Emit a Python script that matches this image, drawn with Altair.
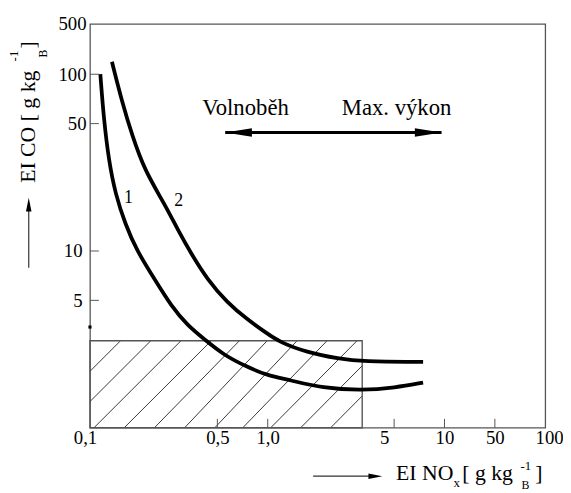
import altair as alt
import pandas as pd
import numpy as np

FONT = "Liberation Serif"

# ---------------- data ----------------
x_ticks = [0.1, 0.5, 1, 5, 10, 50, 100]
x_tick_labels = ["0,1", "0,5", "1,0", "5", "10", "50", "100"]
y_domain = [1, 5, 10, 50, 100, 500]
y_ticks = [5, 10, 50, 100, 500]

curve1_x = [0.114, 0.119, 0.127, 0.138, 0.156, 0.180, 0.227, 0.279, 0.344, 0.423,
            0.548, 0.752, 0.986, 1.32, 2.01, 3.33, 5.07, 7.45]
curve1_y = [100, 53.8, 31.1, 20.5, 14.1, 10.1, 6.69, 4.66, 3.63, 3.07,
            2.50, 2.16, 1.94, 1.83, 1.65, 1.60, 1.66, 1.77]
curve2_x = [0.132, 0.150, 0.170, 0.200, 0.257, 0.304, 0.358, 0.441, 0.573, 0.752,
            0.986, 1.167, 1.633, 2.48, 3.33, 7.45]
curve2_y = [149, 67.8, 43.4, 27.5, 18.1, 13.0, 9.7, 6.69, 4.86, 3.94,
            3.30, 2.95, 2.60, 2.39, 2.31, 2.30]

rect_x = [0.1, 3.33]
rect_y = [1.0, 3.0]

curve_labels = ["1", "2"]
curve_label_x = [0.1626, 0.307]
curve_label_y = [19.4, 18.9]

# ---------------- scales (piecewise, as in the drawing) ----------------
W, H = 461, 409
xs = alt.Scale(type="log", domain=x_ticks, range=[0, 129, 180, 308, 359, 410, 461], nice=False)
ys = alt.Scale(type="log", domain=y_domain, range=[409, 280, 230, 101, 51, 0], nice=False)

x_label_expr = " : ".join(
    f"datum.value == {v} ? '{l}'" for v, l in zip(x_ticks, x_tick_labels)) + " : ''"

xaxis = alt.Axis(values=x_ticks, labelExpr=x_label_expr, ticks=False, domain=False, grid=False,
                 title=None, labelFont=FONT, labelFontSize=19, labelColor="black",
                 labelPadding=1, labelFlush=False, labelOverlap=False,
                 labelOffset={"expr": "datum.value == 5 ? -10 : datum.value == 0.1 ? -5 : datum.value == 100 ? 4 : 0"})
yaxis = alt.Axis(values=y_ticks, labelExpr="toString(datum.value)", ticks=False, domain=False,
                 grid=False, title=None, labelFont=FONT, labelFontSize=19, labelColor="black",
                 labelFlush=False, labelOverlap=False,
                 labelPadding={"expr": "datum.value <= 10 ? 8 : 4"})


def X(f):
    return alt.X(f, type="quantitative", scale=xs, axis=xaxis)


def Y(f):
    return alt.Y(f, type="quantitative", scale=ys, axis=yaxis)


# ---------------- tables ----------------
curves = pd.concat([
    pd.DataFrame({"x": curve1_x, "y": curve1_y, "c": "1"}),
    pd.DataFrame({"x": curve2_x, "y": curve2_y, "c": "2"}),
])

# hatching of the rectangle (45 deg lines, 30 px apart)
umax = np.log10(rect_x[1] / rect_x[0])
vmax = np.log10(rect_y[1] / rect_y[0])
step = 30 / 181
rows = []
k = 0
for c in np.arange(0.022 - 2 * step, umax, step):
    u0, v0 = max(c, 0), max(-c, 0)
    u1, v1 = min(c + vmax, umax), min(vmax, umax - c)
    if u1 - u0 < 0.01:
        continue
    for u, v in ((u0, v0), (u1, v1)):
        rows.append({"x": rect_x[0] * 10 ** u, "y": rect_y[0] * 10 ** v, "k": k})
    k += 1
hatch = pd.DataFrame(rows)

rect = pd.DataFrame({"x": [rect_x[0]], "x2": [rect_x[1]], "y": [rect_y[0]], "y2": [rect_y[1]]})
xtick_df = pd.DataFrame({"v": [0.5, 1, 5, 10, 50]})
ytick_df = pd.DataFrame({"v": [5, 10, 50, 100]})
lab_df = pd.DataFrame({"x": curve_label_x, "y": curve_label_y, "t": curve_labels})

arrow = pd.DataFrame({"x": [0.557], "x2": [9.6], "y": [44.7]})
head_l = pd.DataFrame({"x": [0.557], "y": [44.7]})
head_r = pd.DataFrame({"x": [9.6], "y": [44.7]})
words = pd.DataFrame({"x": [0.737, 5.17], "y": [56.6, 56.6], "t": ["Volnoběh", "Max. výkon"]})
dot = pd.DataFrame({"x": [0.1], "y": [3.57]})

one = pd.DataFrame({"a": [0]})

# ---------------- layers ----------------
hatch_l = alt.Chart(hatch).mark_line(color="#222", strokeWidth=0.9).encode(
    x=X("x"), y=Y("y"), detail="k:N")
rect_l = alt.Chart(rect).mark_rect(fillOpacity=0, stroke="#555", strokeWidth=1.4).encode(
    x=X("x"), x2="x2", y=Y("y"), y2="y2")
xt_l = alt.Chart(xtick_df).mark_rule(color="#555", strokeWidth=1).encode(
    x=X("v"), y=alt.value(H), y2=alt.value(H - 9))
yt_l = alt.Chart(ytick_df).mark_rule(color="#555", strokeWidth=1).encode(
    y=Y("v"), x=alt.value(0), x2=alt.value(9))
curve_l = alt.Chart(curves).mark_line(color="black", strokeWidth=3.8, interpolate="basis").encode(
    x=X("x"), y=Y("y"), detail="c:N")
lab_l = alt.Chart(lab_df).mark_text(font=FONT, fontSize=18, color="black", align="center",
                                    baseline="middle").encode(x=X("x"), y=Y("y"), text="t:N")
arrow_l = alt.Chart(arrow).mark_rule(color="black", strokeWidth=3).encode(
    x=X("x"), x2="x2", y=Y("y"))
hl_l = alt.Chart(head_l).mark_point(shape="M 0 0 L 2 -0.32 L 2 0.32 Z", size=729, filled=True,
                                    color="black", opacity=1, strokeWidth=0).encode(x=X("x"), y=Y("y"))
hr_l = alt.Chart(head_r).mark_point(shape="M 0 0 L -2 -0.32 L -2 0.32 Z", size=729, filled=True,
                                    color="black", opacity=1, strokeWidth=0).encode(x=X("x"), y=Y("y"))
words_l = alt.Chart(words).mark_text(font=FONT, fontSize=23, color="black", align="center",
                                     baseline="alphabetic").encode(x=X("x"), y=Y("y"), text="t:N")
dot_l = alt.Chart(dot).mark_point(shape="square", size=10, filled=True, color="black",
                                  opacity=1).encode(x=X("x"), y=Y("y"))


def txt(t, x, y, size, angle=0):
    return alt.Chart(one).mark_text(text=t, font=FONT, fontSize=size, angle=angle, align="left",
                                    baseline="alphabetic", color="black").encode(
        x=alt.value(x), y=alt.value(y))


# y-axis title  "EI CO [ g kg_B^-1 ]"  (rotated)
ytitle = [
    txt("EI CO [ g kg", -56, 161, 22, 270),
    txt("-1", -73, 38, 13, 270),
    txt("B", -44, 34, 12, 270),
    txt("]", -56, 25, 22, 270),
]
# x-axis title  "EI NO_x [ g kg_B^-1 ]"
xtitle = [
    txt("EI NO", 310, 462, 22),
    txt("x", 368, 469, 13),
    txt("[ g kg", 377, 462, 22),
    txt("-1", 436, 452, 13),
    txt("B", 437, 471, 12),
    txt("]", 451, 462, 22),
]

yarrow_line = alt.Chart(one).mark_rule(color="#333", strokeWidth=1.2).encode(
    x=alt.value(-62), y=alt.value(185), y2=alt.value(247))
yarrow_head = alt.Chart(one).mark_point(shape="M 0 0 L -0.4 2 L 0.4 2 Z", size=196, filled=True,
                                        color="black", opacity=1, strokeWidth=0).encode(
    x=alt.value(-62), y=alt.value(176))
xarrow_line = alt.Chart(one).mark_rule(color="#333", strokeWidth=1.2).encode(
    x=alt.value(226), x2=alt.value(288), y=alt.value(458))
xarrow_head = alt.Chart(one).mark_point(shape="M 0 0 L -2 -0.4 L -2 0.4 Z", size=196, filled=True,
                                        color="black", opacity=1, strokeWidth=0).encode(
    x=alt.value(296), y=alt.value(458))

chart = alt.layer(
    hatch_l, rect_l, xt_l, yt_l, curve_l, lab_l, arrow_l, hl_l, hr_l, words_l, dot_l,
    *ytitle, *xtitle, yarrow_line, yarrow_head, xarrow_line, xarrow_head,
).properties(
    width=W, height=H,
    padding={"left": 83, "top": 13, "right": 18, "bottom": 63},
    autosize=alt.AutoSizeParams(type="none"),
).configure_view(stroke="#555", strokeWidth=1.3)

chart.save("out.html", embed_options={"renderer": "svg", "actions": False})
